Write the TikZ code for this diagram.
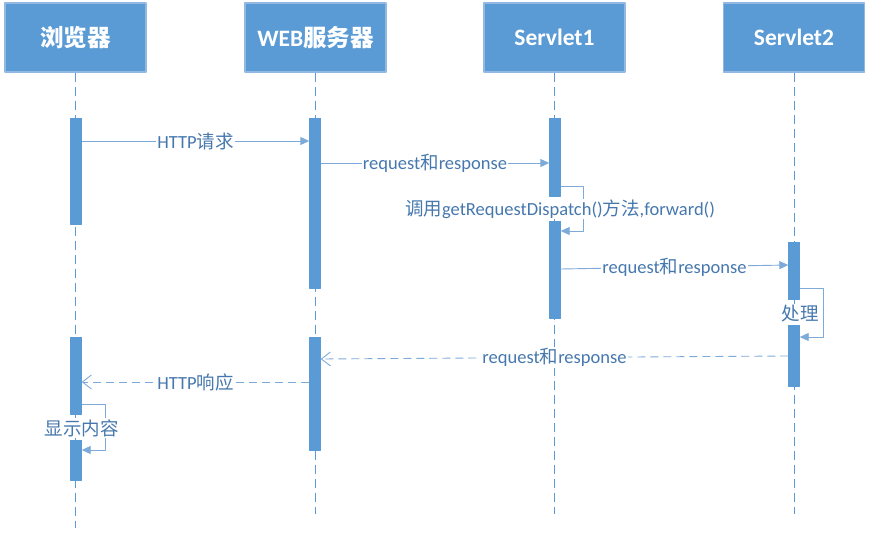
\documentclass[tikz,border=0pt]{standalone}
\usepackage{fontspec}
\setmainfont{Carlito}
\newfontfamily\cjk{Noto Sans CJK SC}
\usetikzlibrary{arrows.meta}
\definecolor{boxblue}{HTML}{5B9BD5}
\definecolor{boxline}{HTML}{93B8E2}
\definecolor{msgline}{HTML}{7DAAD9}
\definecolor{msgtext}{HTML}{4678AE}
\newcommand{\zh}[1]{{\cjk #1}}
\tikzset{
	head/.style={draw=boxline, line width=1.2pt, fill=boxblue, minimum width=141pt, minimum height=69pt, text=white, font=\fontsize{23.5}{26}\selectfont\bfseries},
	life/.style={draw=boxblue, line width=0.9pt, dash pattern=on 9pt off 5pt},
	bar/.style={draw=boxblue, fill=boxblue, minimum width=11pt, inner sep=0pt},
	msg/.style={draw=msgline, line width=0.9pt, -{Triangle[length=9pt,width=8pt]}},
	reply/.style={draw=msgline, line width=0.9pt, dash pattern=on 8pt off 5pt, -{Straight Barb[length=9pt,width=14pt]}},
	lbl/.style={fill=white, text=msgtext, inner sep=1pt}
}
\begin{document}
\begin{tikzpicture}[x=1pt, y=-1pt, font=\fontsize{18.5}{20}\selectfont, line join=round]
	\useasboundingbox (0,0) rectangle (871,533);
	\node[head] (browser) at (75.5,37.5) {\zh{浏览器}};
	\node[head] (web) at (315.5,37.5) {WEB\zh{服务器}};
	\node[head] (servletA) at (554.5,37.5) {Servlet1};
	\node[head] (servletB) at (794,37.5) {Servlet2};
	\foreach \h/\len in {browser/455, web/441, servletA/441, servletB/441}
		\draw[life] (\h.south) -- ++(0,\len);
	\foreach \b/\x/\ya/\yb in {b1a/76/118/224, b1b/76/337/414, b1c/76/440/480, b2a/315/118/288, b2b/315/337/450, b3a/555/118/196, b3b/555/221/318, b4a/794/242/299, b4b/794/325/386}
		\node[bar, minimum height={\yb-\ya}] (\b) at (\x,{(\ya+\yb)/2}) {};
	\draw[msg] (b1a.east |- 0,141) -- node[lbl]{HTTP\zh{请求}} (b2a.west |- 0,141);
	\draw[msg] (b2a.east |- 0,163) -- node[lbl]{request\zh{和}response} (b3a.west |- 0,163);
	\draw[msg] (b3a.east |- 0,186) -- ++(23,0) |- (b3b.east |- 0,231);
	\node[lbl] (call) at (560,209) {\zh{调用}getRequestDispatch()\zh{方法},forward()};
	\draw[msg] (b3b.east |- 0,269) -- node[lbl]{request\zh{和}response} (b4a.west |- 0,265);
	\draw[msg] (b4a.east |- 0,288) -- ++(24,0) |- (b4b.east |- 0,337);
	\node[lbl] (handle) at (800,313) {\zh{处理}};
	\draw[reply] (b4b.west |- 0,356) -- node[lbl]{request\zh{和}response} (b2b.east |- 0,359);
	\draw[reply] (b2b.west |- 0,382) -- node[lbl]{HTTP\zh{响应}} (b1b.east |- 0,382);
	\draw[msg] (b1b.east |- 0,404) -- ++(24,0) |- (b1c.east |- 0,450);
	\node[lbl] (show) at (82,428) {\zh{显示内容}};
\end{tikzpicture}
\end{document}
